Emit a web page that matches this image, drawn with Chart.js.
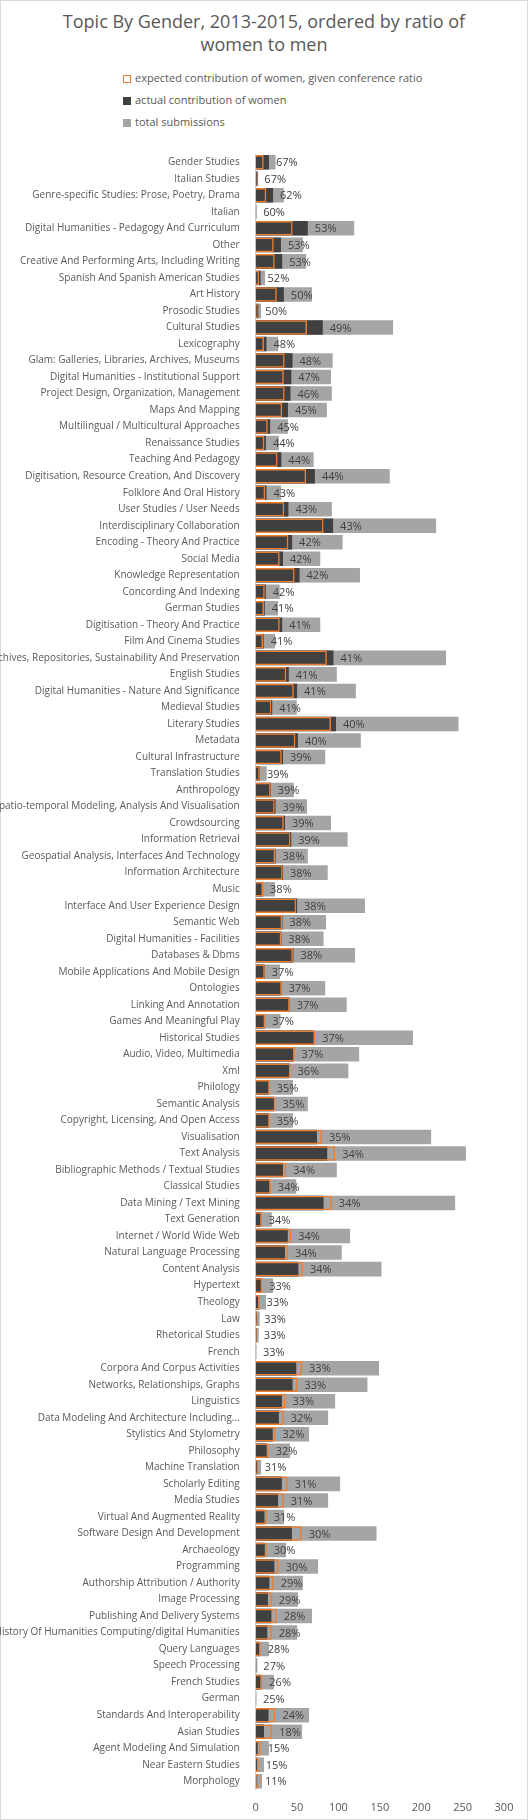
<!DOCTYPE html>
<html><head><meta charset="utf-8">
<script src="https://cdn.jsdelivr.net/npm/chart.js@4/dist/chart.umd.min.js"></script>
<style>
html,body{margin:0;padding:0;background:#fff;}
#frame{position:absolute;left:0;top:0;width:526px;height:1818px;border:1px solid #d9d9d9;}
#title{position:absolute;left:0;width:528px;top:10px;text-align:center;font-family:"Open Sans","Noto Sans",sans-serif;font-size:18px;line-height:23px;color:#595959;}
.lg{position:absolute;left:123px;font-family:"Open Sans","Noto Sans",sans-serif;font-size:11px;color:#595959;}
.sw{display:inline-block;width:8px;height:8px;margin-right:4px;vertical-align:-1px;box-sizing:border-box;}
#wrap{position:absolute;left:0;top:140px;width:528px;height:1672px;}
</style></head><body>
<div id="frame"></div>
<div id="title">Topic By Gender, 2013-2015, ordered by ratio of<br>women to men</div>
<div class="lg" style="top:70px"><span class="sw" style="border:1.5px solid #ed7d31"></span>expected contribution of women, given conference ratio</div>
<div class="lg" style="top:92px"><span class="sw" style="background:#404040"></span>actual contribution of women</div>
<div class="lg" style="top:114px"><span class="sw" style="background:#a5a5a5"></span>total submissions</div>
<div id="wrap"><canvas id="c"></canvas></div>
<script>
const categories=["Gender Studies","Italian Studies","Genre-specific Studies: Prose, Poetry, Drama","Italian","Digital Humanities - Pedagogy And Curriculum","Other","Creative And Performing Arts, Including Writing","Spanish And Spanish American Studies","Art History","Prosodic Studies","Cultural Studies","Lexicography","Glam: Galleries, Libraries, Archives, Museums","Digital Humanities - Institutional Support","Project Design, Organization, Management","Maps And Mapping","Multilingual / Multicultural Approaches","Renaissance Studies","Teaching And Pedagogy","Digitisation, Resource Creation, And Discovery","Folklore And Oral History","User Studies / User Needs","Interdisciplinary Collaboration","Encoding - Theory And Practice","Social Media","Knowledge Representation","Concording And Indexing","German Studies","Digitisation - Theory And Practice","Film And Cinema Studies","Archives, Repositories, Sustainability And Preservation","English Studies","Digital Humanities - Nature And Significance","Medieval Studies","Literary Studies","Metadata","Cultural Infrastructure","Translation Studies","Anthropology","Spatio-temporal Modeling, Analysis And Visualisation","Crowdsourcing","Information Retrieval","Geospatial Analysis, Interfaces And Technology","Information Architecture","Music","Interface And User Experience Design","Semantic Web","Digital Humanities - Facilities","Databases & Dbms","Mobile Applications And Mobile Design","Ontologies","Linking And Annotation","Games And Meaningful Play","Historical Studies","Audio, Video, Multimedia","Xml","Philology","Semantic Analysis","Copyright, Licensing, And Open Access","Visualisation","Text Analysis","Bibliographic Methods / Textual Studies","Classical Studies","Data Mining / Text Mining","Text Generation","Internet / World Wide Web","Natural Language Processing","Content Analysis","Hypertext","Theology","Law","Rhetorical Studies","French","Corpora And Corpus Activities","Networks, Relationships, Graphs","Linguistics","Data Modeling And Architecture Including...","Stylistics And Stylometry","Philosophy","Machine Translation","Scholarly Editing","Media Studies","Virtual And Augmented Reality","Software Design And Development","Archaeology","Programming","Authorship Attribution / Authority","Image Processing","Publishing And Delivery Systems","History Of Humanities Computing/digital Humanities","Query Languages","Speech Processing","French Studies","German","Standards And Interoperability","Asian Studies","Agent Modeling And Simulation","Near Eastern Studies","Morphology"];
const totalSubmissions=[24,3,34,1,119,57,61,11.3,68,6.5,166,27,93,91,92,86,39,28,70,162,30.6,92,218,105,78,126,29,27,78,23.4,230,98,121,49.6,245,127,84,13.3,46,62,91,111,63,87,23.4,132,85,82,120,29.4,84,110,30,190,125,112,45,63,45,212,254,98,49,241,19.4,114,104,152,21,12.5,4.8,3.6,1,149,135,96,87.5,64.5,41.5,6.5,102,87.5,34.3,146,36.7,75.4,57,51,68,50,16,2,22,1,64.5,56,16,10,7.7];
const actualWomen=[16,2,21,0.6,63,30.5,32,5.9,34,3.2,81,13,44.5,43,42,39,17.5,12.3,31,71.5,13,39.5,93.5,44,33,53,12.2,11,32,9.6,94,40,50,20,97,51,33,5.2,18,24,35.4,43,24,33,8.9,50,32.3,31,45.6,10.9,31,40.7,11.3,70,46,40.3,15.8,22,15.8,74,86.4,33,16.7,82,6.6,38.8,35.4,51.6,6.9,4.1,1.6,1.2,0.33,49,44.5,31.7,28,20.6,13.3,2,31.6,27,10.6,43.8,11,22.6,16.5,14.8,19,14,4.5,0.54,5.7,0.25,15.5,10,2.4,1.5,0.85];
const expectedWomen=[9.7,1.2,12.8,0.4,44.6,21.8,23,4.2,25.5,2.4,62,10,35,34,35,32,14.6,10.5,26.4,61,11.5,34.5,82,39.5,29,47,11,10,29,8.8,86,37,46,19,91,48,31.5,5,18,23,34,42,23.6,32.6,8.8,49,32,31,45,11,31.5,41,11.5,72,47,42,17,24,17,80,96,37,18.3,92,7.3,43,39,57,7.9,4.7,1.8,1.4,0.4,56,50.5,36,33.9,24,15.7,2.4,38.7,33.9,13.3,55.6,13.3,27.8,21.8,19.4,25.4,19.4,6,0.8,8,0.4,23.8,20,6,3.6,2.8];
const pctLabels=["67%","67%","62%","60%","53%","53%","53%","52%","50%","50%","49%","48%","48%","47%","46%","45%","45%","44%","44%","44%","43%","43%","43%","42%","42%","42%","42%","41%","41%","41%","41%","41%","41%","41%","40%","40%","39%","39%","39%","39%","39%","39%","38%","38%","38%","38%","38%","38%","38%","37%","37%","37%","37%","37%","37%","36%","35%","35%","35%","35%","34%","34%","34%","34%","34%","34%","34%","34%","33%","33%","33%","33%","33%","33%","33%","33%","32%","32%","32%","31%","31%","31%","31%","30%","30%","30%","29%","29%","28%","28%","28%","27%","26%","25%","24%","18%","15%","15%","11%"];
const xTicks=[0,50,100,150,200,250,300];
const F='"Open Sans","Noto Sans",sans-serif';
const labelPlugin={id:'pct',afterDatasetsDraw(chart){
  const ctx=chart.ctx;const meta=chart.getDatasetMeta(1);
  ctx.save();ctx.font='11px '+F;ctx.fillStyle='#404040';ctx.textBaseline='middle';ctx.textAlign='left';
  meta.data.forEach((el,i)=>{const e=chart.getDatasetMeta(0).data[i];
    const x=Math.max(el.x,e.x)+7;ctx.fillText(pctLabels[i],x,el.y+1);});
  ctx.restore();}};
new Chart(document.getElementById('c'),{
 type:'bar',
 data:{labels:categories,datasets:[
  {label:'expected contribution of women, given conference ratio',data:expectedWomen,backgroundColor:'rgba(0,0,0,0)',borderColor:'#ed7d31',borderWidth:1.5,grouped:false,order:0,barPercentage:0.88,categoryPercentage:1},
  {label:'actual contribution of women',data:actualWomen,backgroundColor:'#404040',grouped:false,order:1,barPercentage:0.88,categoryPercentage:1},
  {label:'total submissions',data:totalSubmissions,backgroundColor:'#a5a5a5',grouped:false,order:2,barPercentage:0.88,categoryPercentage:1}
 ]},
 options:{indexAxis:'y',responsive:true,maintainAspectRatio:false,animation:false,
  layout:{padding:{top:10.5,right:24,left:0,bottom:0}},
  plugins:{legend:{display:false},tooltip:{enabled:false}},
  scales:{
   x:{min:0,max:300,afterBuildTicks(s){s.ticks=xTicks.map(v=>({value:v}));},
      grid:{display:false},border:{display:false},
      ticks:{color:'#595959',font:{family:F,size:11},padding:4},
      afterFit(s){s.height=22.5;}},
   y:{grid:{display:false},border:{display:true,color:'#d9d9d9'},
      ticks:{color:'#595959',font:{family:F,size:10},autoSkip:false,padding:8},
      afterFit(s){s.width=255.7;}}
  }},
 plugins:[labelPlugin]
});
</script></body></html>
